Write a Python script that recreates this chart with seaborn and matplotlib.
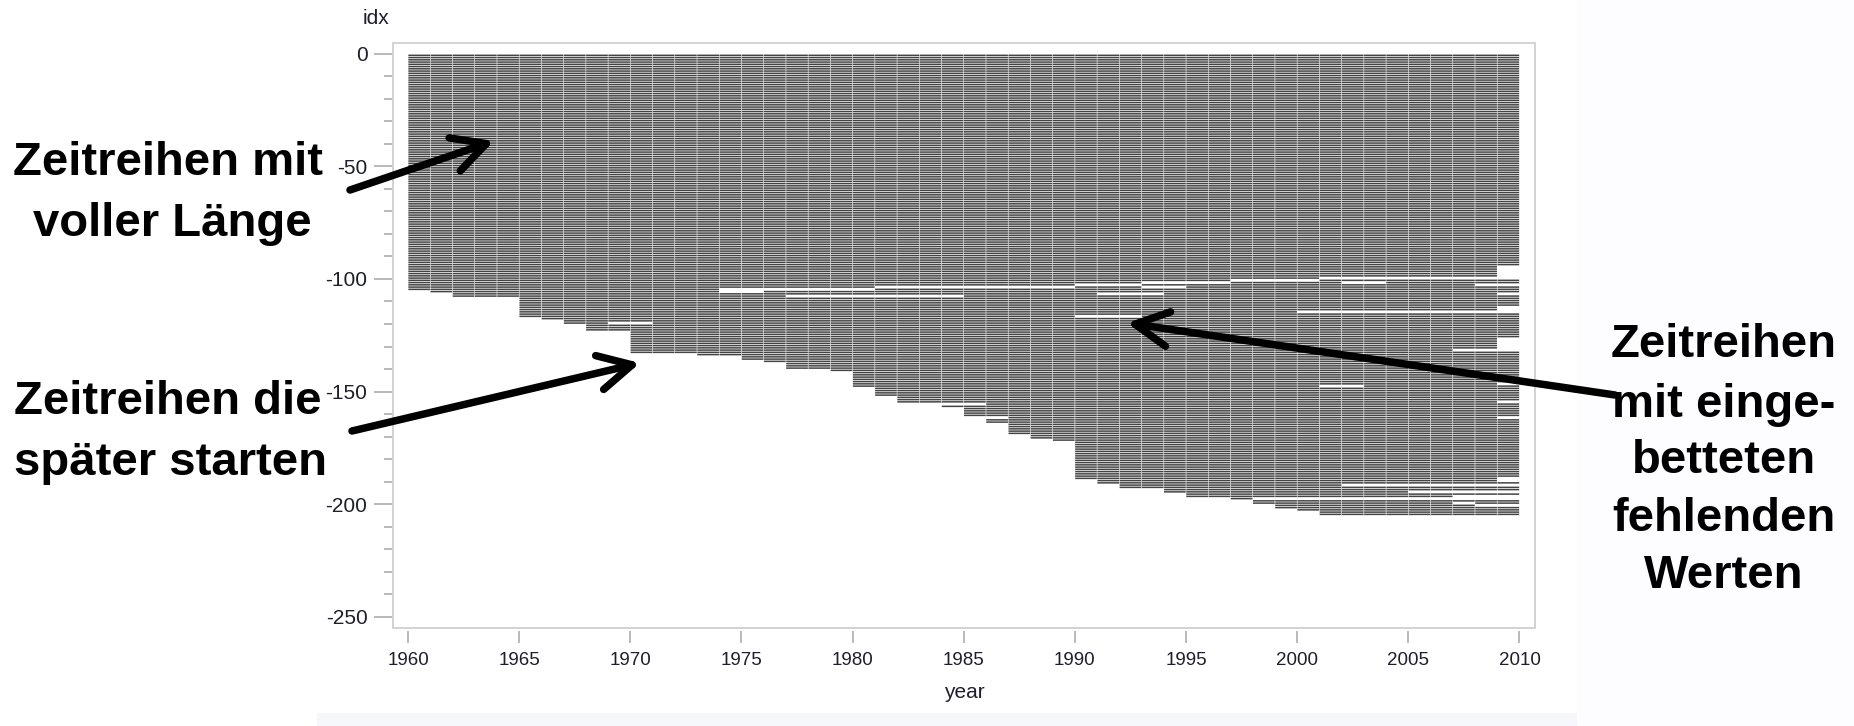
import numpy as np
import pandas as pd
import matplotlib
matplotlib.use("Agg")
import matplotlib.pyplot as plt
import seaborn as sns
from matplotlib.patches import Rectangle, ArrowStyle, FancyArrowPatch
from matplotlib.ticker import MultipleLocator

# ---- data -------------------------------------------------------------
n_series = 205

# first series index of each block and the year those series start
start_rows = [0, 105, 106, 108, 117, 118, 120, 123, 133, 134, 136, 137, 140, 141,
              148, 152, 155, 156, 157, 161, 162, 164, 169, 171, 172, 189, 191, 193,
              195, 197, 198, 200, 202, 203]
start_years = [1960, 1961, 1962, 1965, 1966, 1967, 1968, 1970, 1973, 1975, 1976, 1977,
               1979, 1980, 1981, 1982, 1986, 1984, 1985, 1987, 1986, 1987, 1988, 1989,
               1990, 1991, 1992, 1994, 1995, 1997, 1998, 1999, 2000, 2001]

# first series index of each block and the year those series end
end_rows = [0, 94, 99, 100, 102, 103, 106, 107, 112, 114, 115, 126, 131, 132, 146,
            147, 154, 155, 161, 162, 188, 190, 191, 192, 194, 195, 196, 197, 198,
            200, 201]
end_years = [2010, 2009, 2001, 2010, 2008, 2010, 2009, 2010, 2009, 2000, 2010, 2009,
             2007, 2010, 2009, 2010, 2009, 2010, 2009, 2010, 2009, 2010, 2002, 2010,
             2005, 2010, 2007, 1998, 2010, 2008, 2010]

# embedded missing values: series index, first missing year, first year back
gap_rows = [100, 101, 101, 102, 103, 103, 104, 105, 106, 107, 116, 119, 147, 199]
gap_from = [1997, 1993, 2002, 1990, 1981, 1993, 1974, 1974, 1991, 1977, 1990, 1969, 2001, 2007]
gap_to = [2001, 1997, 2004, 1993, 1990, 1995, 1981, 1976, 1994, 1985, 1993, 1971, 2003, 2008]

x_ticks = list(range(1960, 2011, 5))
y_ticks = list(range(-250, 1, 50))


def block_value(row, rows, values):
    pos = np.searchsorted(rows, row, side="right") - 1
    return values[pos]


records = []
for r in range(n_series):
    s = block_value(r, start_rows, start_years)
    e = block_value(r, end_rows, end_years)
    for yr in range(s, e):
        missing = any(gr == r and gf <= yr < gt
                      for gr, gf, gt in zip(gap_rows, gap_from, gap_to))
        if not missing:
            records.append((-r, yr))
obs = pd.DataFrame(records, columns=["idx", "year"])

# ---- style ------------------------------------------------------------
sns.set_theme(style="white")
plt.rcParams["font.family"] = ["Liberation Sans", "DejaVu Sans"]
plt.rcParams["axes.unicode_minus"] = False

W, H = 1854, 726
fig = plt.figure(figsize=(W / 100, H / 100), dpi=100)
fig.patch.set_facecolor("white")

# faint panel tints around the graph
fig.patches.append(Rectangle((1577 / W, 0), 1 - 1577 / W, 1, transform=fig.transFigure,
                             facecolor="#fdfdff", edgecolor="none", zorder=-5))
fig.patches.append(Rectangle((317 / W, 0), (1577 - 317) / W, 13 / H, transform=fig.transFigure,
                             facecolor="#f6f7fb", edgecolor="none", zorder=-5))

L, R, T, B = 392.5, 1535, 42.5, 628
ax = fig.add_axes([L / W, 1 - B / H, (R - L) / W, (B - T) / H])
ax.set_facecolor("white")

# one short segment per observed year, one row per series
g = 0.012
ax.hlines(obs["idx"] - 0.6, obs["year"] + g, obs["year"] + 1 - g,
          colors="#444444", linewidth=1.1, snap=False, antialiased=True)

ax.set_xlim(1959.3, 2010.7)
ax.set_ylim(-255.1, 5.1)

sns.despine(ax=ax, left=True, bottom=True, right=True, top=True)
ax.spines["bottom"].set_position(("outward", 2.5))
ax.add_patch(Rectangle((0, 0), 1, 1, transform=ax.transAxes, fill=False,
                       edgecolor="#d2d2d2", linewidth=1.4, clip_on=False, zorder=5))

ax.set_xticks(x_ticks)
ax.set_yticks(y_ticks)
ax.yaxis.set_minor_locator(MultipleLocator(10))
ax.tick_params(axis="y", which="major", left=True, length=13.5, width=1.1,
               color="#a6a6a6", pad=4.5, labelsize=15, labelcolor="#1e1e2c")
ax.tick_params(axis="y", which="minor", left=True, length=6.5, width=1.1,
               color="#a6a6a6")
ax.tick_params(axis="x", which="major", bottom=True, length=8.5, width=1.1,
               color="#a6a6a6", pad=6.5, labelsize=13.5, labelcolor="#1e1e2c")
ax.grid(False)

fig.text(964 / W, 1 - 692 / H, "year", ha="center", va="center",
         fontsize=15, color="#1e1e2c")
fig.text(376 / W, 1 - 18.5 / H, "idx", ha="center", va="center",
         fontsize=15, color="#1e1e2c")

# ---- annotations ------------------------------------------------------
note_kw = dict(ha="center", va="baseline", fontsize=34, fontweight="bold",
               color="black")
for txt, x, y in [("Zeitreihen mit", 168, 175), ("voller Länge", 172, 236),
                  ("Zeitreihen die", 168, 414), ("später starten", 170, 475),
                  ("Zeitreihen", 1724, 357), ("mit einge-", 1724, 417),
                  ("betteten", 1724, 473), ("fehlenden", 1724, 531),
                  ("Werten", 1724, 588)]:
    fig.text(x / W, 1 - y / H, txt, **note_kw)

head = ArrowStyle("->", head_length=2.4, head_width=1.25)
for (x0, y0), (x1, y1) in [((350, 190), (494, 141)),
                           ((352, 431), (640, 363)),
                           ((1615, 395), (1127, 323))]:
    fig.add_artist(FancyArrowPatch(
        (x0 / W, 1 - y0 / H), (x1 / W, 1 - y1 / H), transform=fig.transFigure,
        arrowstyle=head, mutation_scale=10, linewidth=5.4, color="black",
        capstyle="round", joinstyle="round", shrinkA=0, shrinkB=0, zorder=10))

fig.savefig("out.png", dpi=100)
